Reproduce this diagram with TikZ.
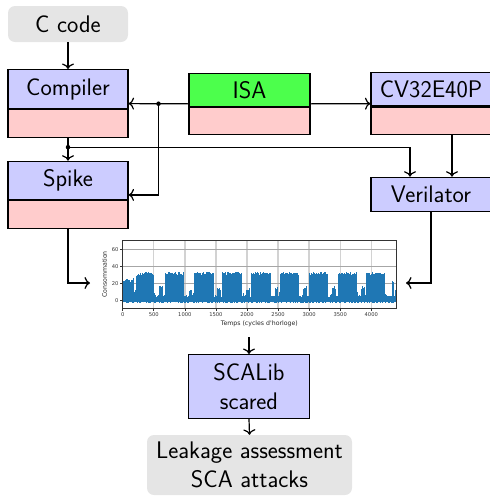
\documentclass[tikz,border=0pt]{standalone}
\usepackage{fontspec}
\newfontfamily\plotfont{DejaVu Sans}
\usetikzlibrary{arrows.meta,calc,fit}
\definecolor{mplblue}{HTML}{1F77B4}
\begin{document}
\begin{tikzpicture}[x=1pt,y=-1pt,
  every node/.style={font=\sffamily\fontsize{24}{28.5}\selectfont},
  blk/.style={draw=black, line width=1.1pt, minimum width=120pt, inner sep=0pt, anchor=north},
  topb/.style={blk, fill=blue!20},
  botb/.style={blk, fill=red!20},
  soft/.style={fill=gray!20, rounded corners=7pt, inner sep=0pt, minimum width=120pt},
  conn/.style={line width=1.2pt, -{To[length=5.5pt,width=12pt]}},
  dotn/.style={circle, fill=black, inner sep=0pt, minimum size=4.5pt},
  wrap/.style={inner sep=0pt, outer sep=0pt},
  sig/.style={draw=mplblue, line width=0.6pt},
  vgrid/.style={draw=gray!35, line width=1.3pt},
  hgrid/.style={draw=gray!70, line width=0.5pt},
  axisl/.style={draw=black!80, line width=0.7pt},
  ticklab/.style={font=\plotfont\fontsize{5.2}{6}\selectfont, inner sep=0pt, text=black!80},
  axlab/.style={font=\plotfont\fontsize{6.2}{7}\selectfont, inner sep=0pt, text=black!85},
]
\useasboundingbox (0,0) rectangle (490,496);

% ---------------- blocks ----------------
\node[soft, minimum height=36pt] (ccode) at (68,24) {C code};

\node[topb, minimum height=39pt] (compT) at (68,69) {Compiler};
\node[botb, minimum height=28pt] (compB) at (compT.south) {};
\node[wrap, fit=(compT)(compB)] (comp) {};

\node[topb, fill=green!70, minimum width=121pt, minimum height=33.5pt] (isaT) at (249.5,72.5) {ISA};
\node[botb, minimum width=121pt, minimum height=27pt] (isaB) at (isaT.south) {};
\node[wrap, fit=(isaT)(isaB)] (isa) {};

\node[topb, minimum height=33pt] (cvT) at (431,72.3) {CV32E40P};
\node[botb, minimum height=27.5pt] (cvB) at (cvT.south) {};
\node[wrap, fit=(cvT)(cvB)] (cv) {};

\node[topb, minimum height=38.5pt] (spikeT) at (68,160.7) {Spike};
\node[botb, minimum height=27.7pt] (spikeB) at (spikeT.south) {};
\node[wrap, fit=(spikeT)(spikeB)] (spike) {};

\node[topb, minimum height=34pt] (ver) at (431,176.7) {Verilator};

\node[topb, minimum width=121pt, minimum height=63.7pt, align=center] (sca) at (249,354) {SCALib\\scared};

\node[soft, minimum width=205pt, minimum height=60pt, align=center] (leak) at (249.5,465) {Leakage assessment\\SCA attacks};

% ---------------- plot ----------------
\node[wrap, minimum width=316pt, minimum height=108pt] (plot) at (248,283) {};

\begin{scope}[xshift=122.7pt, yshift=-300.3pt, x=0.06215pt, y=0.85pt]
  \foreach \v in {500,1000,...,4000} \draw[vgrid] (\v,-10) -- (\v,70);
  \foreach \v in {0,20,40,60} \draw[hgrid] (0,\v) -- (4397,\v);
  \pgfmathsetseed{7}
  % low band
  \foreach \x in {0,6,...,4394}{
    \pgfmathsetmacro\lo{-1.2-1.8*rnd}
    \pgfmathsetmacro\hi{2.5+3.5*rnd+4*(rnd>0.93)}
    \draw[sig] (\x,\lo) -- (\x,\hi);
  }
  % high segments
  \foreach \a/\b/\l/\n in {0/140/21/4, 140/165/23/3, 190/215/9/5, 215/260/26/5, 260/493/29/4,
     590/643/12/6, 680/975/29/4, 1072/1110/9/5, 1148/1458/29/4, 1530/1570/12/5,
     1603/1915/29/4, 1990/2040/11/5, 2075/2370/29/4, 2450/2490/11/5, 2530/2826/29/4,
     2900/2960/12/5, 2997/3292/29/4, 3380/3420/12/5, 3463/3758/29/4, 3840/3890/12/5,
     3919/4214/29/4, 4330/4360/17/6, 4380/4394/10/5}{
    \pgfmathsetmacro\s{\a+6}
    \foreach \x in {\a,\s,...,\b}{
      \pgfmathsetmacro\hi{\l+\n*rnd}
      \draw[sig] (\x,-1.5) -- (\x,\hi);
    }
  }
  \draw[axisl] (0,-10) rectangle (4397,70);
  \foreach \v in {0,500,...,4000}{
    \draw[axisl] (\v,-10) -- ++(0pt,-2.5pt);
    \node[ticklab, anchor=north] at ([yshift=-3.2pt]\v,-10) {\v};
  }
  \foreach \v in {0,20,40,60}{
    \draw[axisl] (0,\v) -- ++(-2.5pt,0pt);
    \node[ticklab, anchor=east] at ([xshift=-4pt]0,\v) {\v};
  }
\end{scope}
\node[axlab, rotate=90] at (104.5,274.5) {Consommation};
\node[axlab] at (259.3,324) {Temps (cycles d'horloge)};

% ---------------- connectors ----------------
\draw[conn] (ccode) -- (compT);
\coordinate (d1) at ($(isa.west)!0.5!(comp.east)$);
\draw[conn] (isa.west) -- (comp.east);
\draw[conn] (d1) |- (spike.east);
\node[dotn] at (d1) {};
\draw[conn] (isa.east) -- (cv.west);
\draw[conn] (compB.south) -- (spikeT.north);
\coordinate (d2) at ($(compB.south)+(0,9)$);
\coordinate (vl) at ($(ver.north)+(-21,0)$);
\coordinate (vr) at ($(ver.north)+(21,0)$);
\draw[conn] (d2) -| (vl);
\node[dotn] at (d2) {};
\draw[conn] (vr |- cvB.south) -- (vr);
\draw[conn] (spikeB.south) |- (plot.west);
\draw[conn] (ver.south) |- (plot.east);
\draw[conn] (sca.north |- plot.south) -- (sca.north);
\draw[conn] (sca.south) -- (leak.north);
\end{tikzpicture}
\end{document}
